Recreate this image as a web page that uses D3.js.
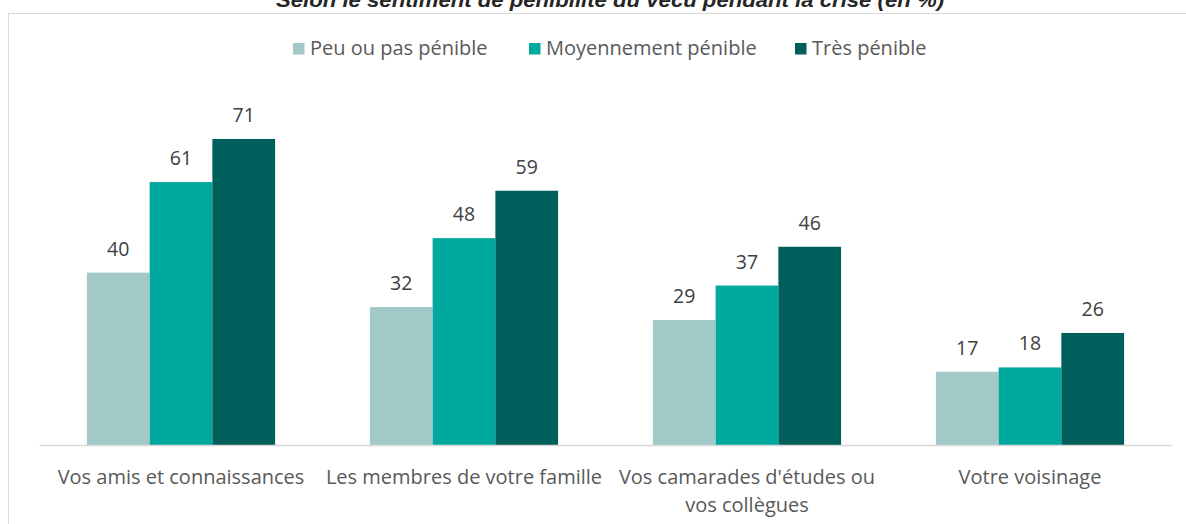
<!DOCTYPE html>
<html>
<head>
<meta charset="utf-8">
<script src="https://cdn.jsdelivr.net/npm/d3@7"></script>
<style>
  body { margin: 0; background: #fff; }
  svg { display: block; }
</style>
</head>
<body>
<svg id="chart" width="1186" height="524"></svg>
<script>
var categories = [
  ["Vos amis et connaissances"],
  ["Les membres de votre famille"],
  ["Vos camarades d'études ou", "vos collègues"],
  ["Votre voisinage"]
]
var seriesNames = ["Peu ou pas pénible", "Moyennement pénible", "Très pénible"]
var peu = [40, 32, 29, 17]
var moyen = [61, 48, 37, 18]
var tres = [71, 59, 46, 26]
var title = "Selon le sentiment de pénibilité du vécu pendant la crise (en %)"

var colors = ["#a3c8c8", "#00a99e", "#005f5a"]
var font = "'Open Sans', 'Noto Sans', sans-serif"

var svg = d3.select("#chart")
var values = [peu, moyen, tres]

// frame
svg.append("rect")
    .attr("x", 8.5).attr("y", 13.5)
    .attr("width", 1200).attr("height", 600)
    .attr("fill", "none")
    .attr("stroke", "#d9d9d9")

// title, cut by the top edge like in the source
svg.append("text")
    .attr("x", 610).attr("y", 7)
    .attr("text-anchor", "middle")
    .attr("font-family", "'Liberation Sans', Arial, sans-serif")
    .attr("font-style", "italic")
    .attr("font-weight", "bold")
    .attr("font-size", 21)
    .attr("textLength", 668)
    .attr("lengthAdjust", "spacingAndGlyphs")
    .attr("fill", "#262626")
    .text(title)

var x0 = d3.scaleBand()
    .domain(d3.range(categories.length))
    .range([39.5, 1171.5])

// bars take 2/3 of the band
var inner = x0.bandwidth() * 0.665
var x1 = d3.scaleBand()
    .domain(d3.range(seriesNames.length))
    .range([(x0.bandwidth() - inner) / 2, (x0.bandwidth() + inner) / 2])

var y = d3.scaleLinear()
    .domain([0, 71])
    .range([445, 139])

var groups = svg.selectAll(".grp")
    .data(categories)
    .join("g")
    .attr("class", "grp")
    .attr("transform", (d, i) => "translate(" + x0(i) + ",0)")

groups.each(function(cat, i) {
    var g = d3.select(this)
    seriesNames.forEach(function(s, j) {
        var v = values[j][i]
        g.append("rect")
            .attr("x", x1(j))
            .attr("y", y(v))
            .attr("width", x1.bandwidth())
            .attr("height", y(0) - y(v))
            .attr("fill", colors[j])
        g.append("text")
            .attr("x", x1(j) + x1.bandwidth() / 2)
            .attr("y", y(v) - 17)
            .attr("text-anchor", "middle")
            .attr("font-family", font)
            .attr("font-size", 19.5)
            .attr("fill", "#404040")
            .text(v)
    })
})

// axis line
svg.append("line")
    .attr("x1", x0.range()[0]).attr("x2", x0.range()[1])
    .attr("y1", 445.5).attr("y2", 445.5)
    .attr("stroke", "#d9d9d9")
    .attr("stroke-width", 1.5)

// category labels
svg.selectAll(".cat")
    .data(categories)
    .join("text")
    .attr("class", "cat")
    .attr("text-anchor", "middle")
    .attr("font-family", font)
    .attr("font-size", 20)
    .attr("fill", "#595959")
    .each(function(lines, i) {
        d3.select(this).selectAll("tspan")
            .data(lines)
            .join("tspan")
            .attr("x", x0(i) + x0.bandwidth() / 2)
            .attr("y", (d, k) => 483.5 + k * 28)
            .text(d => d)
    })

// legend
var legendX = [293, 529, 795]
var legend = svg.selectAll(".leg")
    .data(seriesNames)
    .join("g")
    .attr("class", "leg")
    .attr("transform", (d, i) => "translate(" + legendX[i] + ",43)")
legend.append("rect")
    .attr("width", 11.5).attr("height", 11.5)
    .attr("fill", (d, i) => colors[i])
legend.append("text")
    .attr("x", 17).attr("y", 12)
    .attr("font-family", font)
    .attr("font-size", 20)
    .attr("fill", "#595959")
    .text(d => d)
</script>
</body>
</html>
